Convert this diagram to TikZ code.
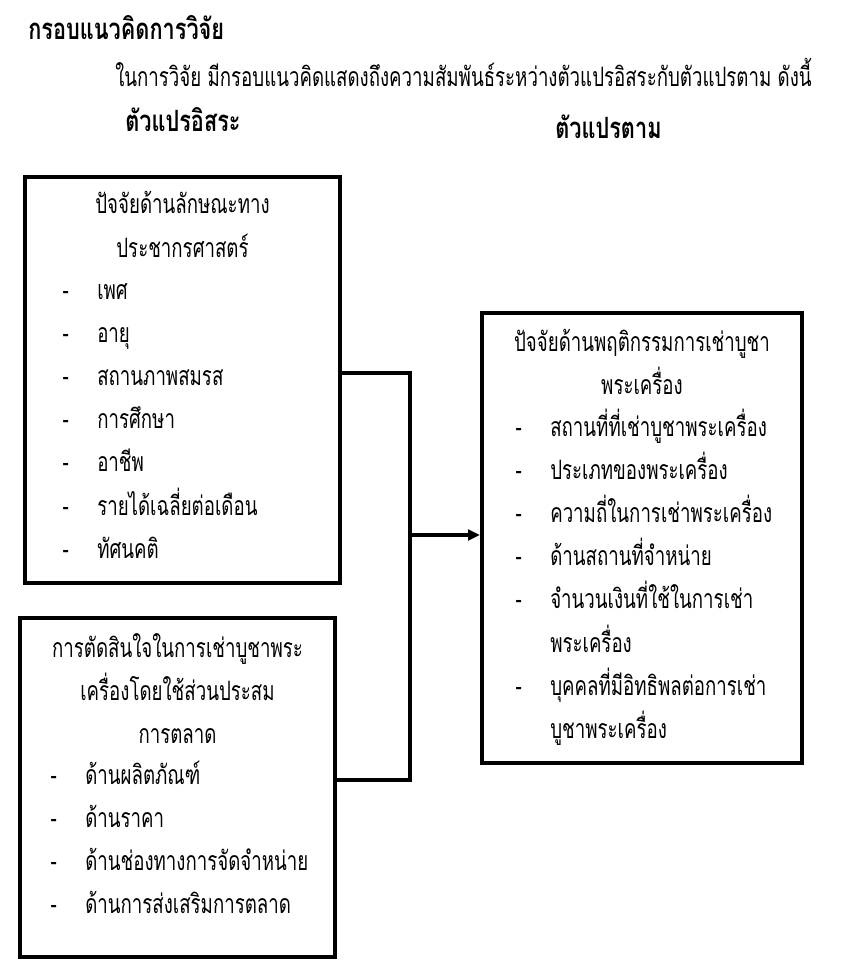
\documentclass[tikz,border=0pt]{standalone}
\usepackage{fontspec}
\newfontfamily\thaifont[Script=Thai,FakeStretch=0.7]{Loma}
\newfontfamily\thaiheadfont[Script=Thai,FakeStretch=0.74]{Loma}
\usetikzlibrary{positioning,fit,arrows.meta}
\tikzset{
  % framed box around a group of variables
  box/.style = {
    draw = black,
    line width = 3pt,
    inner sep = 0
  },
  % connector lines
  link/.style = {
    draw = black,
    line width = 2.4pt
  },
  arr/.style = {
    link,
    -{Triangle[length = 9pt, width = 8pt]}
  },
  % one line of text
  txt/.style = {
    font = \thaifont\fontsize{20}{24}\selectfont,
    inner sep = 0,
    text height = 19pt,
    text depth = 6pt
  },
  item/.style = {txt, anchor = west},
  dashmark/.style = {txt},
  % bold headings above the boxes
  heading/.style = {
    font = \thaiheadfont\bfseries\fontsize{22}{26}\selectfont,
    inner sep = 0,
    anchor = west
  },
  % next line, left aligned under the one before
  nextline/.style = {below = of #1.south west, anchor = north west},
  node distance = 6.9pt and 21pt
}
\begin{document}
\begin{tikzpicture}[x = 0.75pt, y = -0.75pt]
    \useasboundingbox (0,0) rectangle (848,976);

    % headings
    \node[heading] (title) at (28,28) {กรอบแนวคิดการวิจัย};
    \node[item] (intro) at (115,78) {ในการวิจัย มีกรอบแนวคิดแสดงถึงความสัมพันธ์ระหว่างตัวแปรอิสระกับตัวแปรตาม ดังนี้};
    \node[heading] (indep) at (125,120) {ตัวแปรอิสระ};
    \node[heading] (dep) at (555,127) {ตัวแปรตาม};

    % boxes
    \node[box, fit = {(25,177) (340,583)}] (demo) {};
    \node[box, fit = {(20,618) (335,957)}] (mix) {};
    \node[box, fit = {(482,313) (802,763)}] (beh) {};

    % demographic factors
    \node[txt] (demo1) [below = 10pt of demo.north] {ปัจจัยด้านลักษณะทาง};
    \node[txt] (demo2) [below = of demo1] {ประชากรศาสตร์};
    \node[item] (sex) at (97,291) {เพศ};
    \node[item] (age) [nextline = sex] {อายุ};
    \node[item] (marital) [nextline = age] {สถานภาพสมรส};
    \node[item] (edu) [nextline = marital] {การศึกษา};
    \node[item] (job) [nextline = edu] {อาชีพ};
    \node[item] (income) [nextline = job] {รายได้เฉลี่ยต่อเดือน};
    \node[item] (attitude) [nextline = income] {ทัศนคติ};
    \node[dashmark] (sex-d) [left = of sex] {-};
    \node[dashmark] (age-d) [left = of age] {-};
    \node[dashmark] (marital-d) [left = of marital] {-};
    \node[dashmark] (edu-d) [left = of edu] {-};
    \node[dashmark] (job-d) [left = of job] {-};
    \node[dashmark] (income-d) [left = of income] {-};
    \node[dashmark] (attitude-d) [left = of attitude] {-};

    % marketing mix
    \node[txt] (mix1) [below = 12pt of mix.north] {การตัดสินใจในการเช่าบูชาพระ};
    \node[txt] (mix2) [below = of mix1] {เครื่องโดยใช้ส่วนประสม};
    \node[txt] (mix3) [below = of mix2] {การตลาด};
    \node[item] (product) at (85,776) {ด้านผลิตภัณฑ์};
    \node[item] (price) [nextline = product] {ด้านราคา};
    \node[item] (place) [nextline = price] {ด้านช่องทางการจัดจำหน่าย};
    \node[item] (promo) [nextline = place] {ด้านการส่งเสริมการตลาด};
    \node[dashmark] (product-d) [left = of product] {-};
    \node[dashmark] (price-d) [left = of price] {-};
    \node[dashmark] (place-d) [left = of place] {-};
    \node[dashmark] (promo-d) [left = of promo] {-};

    % buying behaviour
    \node[txt] (beh1) [below = 11pt of beh.north] {ปัจจัยด้านพฤติกรรมการเช่าบูชา};
    \node[txt] (beh2) [below = of beh1] {พระเครื่อง};
    \node[item] (where) at (550,428) {สถานที่ที่เช่าบูชาพระเครื่อง};
    \node[item] (kind) [nextline = where] {ประเภทของพระเครื่อง};
    \node[item] (often) [nextline = kind] {ความถี่ในการเช่าพระเครื่อง};
    \node[item] (shop) [nextline = often] {ด้านสถานที่จำหน่าย};
    \node[item] (money) [nextline = shop] {จำนวนเงินที่ใช้ในการเช่า};
    \node[item] (money2) [nextline = money] {พระเครื่อง};
    \node[item] (person) [nextline = money2] {บุคคลที่มีอิทธิพลต่อการเช่า};
    \node[item] (person2) [nextline = person] {บูชาพระเครื่อง};
    \node[dashmark] (where-d) [left = of where] {-};
    \node[dashmark] (kind-d) [left = of kind] {-};
    \node[dashmark] (often-d) [left = of often] {-};
    \node[dashmark] (shop-d) [left = of shop] {-};
    \node[dashmark] (money-d) [left = of money] {-};
    \node[dashmark] (person-d) [left = of person] {-};

    % connectors
    \coordinate (bend) at (410,535);
    \draw[link] ([yshift = 5.25pt]demo.east) -| (bend);
    \draw[link] ([yshift = 5.6pt]mix.east) -| (bend);
    \draw[arr] (bend) -- (bend -| beh.west);
\end{tikzpicture}
\end{document}
